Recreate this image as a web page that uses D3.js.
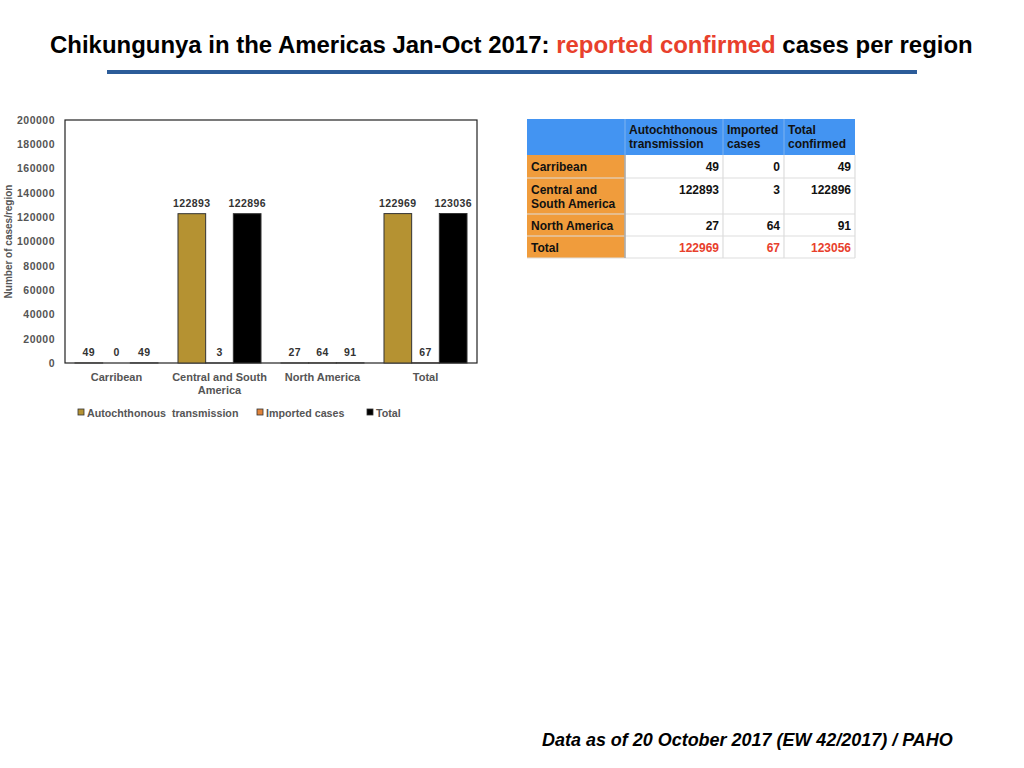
<!DOCTYPE html>
<html><head><meta charset="utf-8">
<script src="https://cdn.jsdelivr.net/npm/d3@7"></script>
<style>body{margin:0;background:#fff;}svg{display:block;}</style>
</head><body>
<svg id="c" width="1024" height="768"></svg>
<script>
const categories = ["Carribean", "Central and South America", "North America", "Total"];
const seriesNames = ["Autochthonous  transmission", "Imported cases", "Total"];
const autochthonous = [49, 122893, 27, 122969];
const imported = [0, 3, 64, 67];
const totals = [49, 122896, 91, 123036];
const yTicks = [0, 20000, 40000, 60000, 80000, 100000, 120000, 140000, 160000, 180000, 200000];
const seriesColors = ["#B59232", "#E0833A", "#000000"];
const tableCols = ["Autochthonous transmission", "Imported cases", "Total confirmed"];
const tableRows = ["Carribean", "Central and South America", "North America", "Total"];
const tableAuto = [49, 122893, 27, 122969];
const tableImp = [0, 3, 64, 67];
const tableTot = [49, 122896, 91, 123056];

(function () {
const svg = d3.select("#c");
const F = "'Liberation Sans', Arial, Helvetica, sans-serif";

function fitX(sel, x0, width) {
  const w = sel.node().getComputedTextLength();
  sel.attr("transform", `translate(${x0},0) scale(${width / w},1)`);
}

// Title
const title = svg.append("text").attr("y", 53).attr("font-family", F).attr("font-weight", "bold").attr("font-size", 24).attr("fill", "#000");
title.append("tspan").text("Chikungunya in the Americas Jan-Oct 2017: ");
title.append("tspan").attr("fill", "#E8402C").text("reported confirmed");
title.append("tspan").text(" cases per region");
fitX(title, 50, 923);
svg.append("rect").attr("x", 107).attr("y", 70).attr("width", 810).attr("height", 4).attr("fill", "#2C5C99");

// Chart
const pl = 65, pr = 477, pt = 120, pb = 363;
const x0 = d3.scaleBand().domain(categories).range([pl, pr]).paddingInner(0.194).paddingOuter(0.097);
const x1 = d3.scaleBand().domain([0, 1, 2]).range([0, x0.bandwidth()]);
const y = d3.scaleLinear().domain([0, 200000]).range([pb, pt]);
const series = [autochthonous, imported, totals];

svg.append("rect").attr("x", pl).attr("y", pt).attr("width", pr - pl).attr("height", pb - pt)
  .attr("fill", "none").attr("stroke", "#222").attr("stroke-width", 1.2);

const yAxis = svg.append("g").attr("transform", `translate(${pl},0)`)
  .call(d3.axisLeft(y).tickValues(yTicks).tickSize(0).tickPadding(10).tickFormat(d3.format("d")));
yAxis.select(".domain").remove();
yAxis.selectAll("text").attr("font-family", F).attr("font-weight", "bold").attr("font-size", 10.5)
  .attr("letter-spacing", 0.5).attr("fill", "#555");

svg.append("text").attr("transform", `translate(12,${(pt + pb) / 2}) rotate(-90)`)
  .attr("text-anchor", "middle").attr("font-family", F).attr("font-weight", "bold").attr("font-size", 10).attr("fill", "#555")
  .text("Number of cases/region");

categories.forEach((c, ci) => {
  series.forEach((s, si) => {
    const v = s[ci];
    const bx = x0(c) + x1(si);
    svg.append("rect").attr("x", bx).attr("y", y(v)).attr("width", x1.bandwidth()).attr("height", Math.max(0, pb - y(v)))
      .attr("fill", seriesColors[si]).attr("stroke", "#333").attr("stroke-width", v > 0 ? 1 : 0);
    svg.append("text").attr("x", bx + x1.bandwidth() / 2).attr("y", y(v) - 7).attr("text-anchor", "middle")
      .attr("font-family", F).attr("font-weight", "bold").attr("font-size", 10.5).attr("letter-spacing", 0.4)
      .attr("fill", "#333").text(v);
  });
});

// x labels
const xLabelLines = [["Carribean"], ["Central and South", "America"], ["North America"], ["Total"]];
categories.forEach((c, ci) => {
  const t = svg.append("text").attr("x", x0(c) + x0.bandwidth() / 2).attr("y", 381).attr("text-anchor", "middle")
    .attr("font-family", F).attr("font-weight", "bold").attr("font-size", 11).attr("fill", "#555");
  xLabelLines[ci].forEach((l, li) => t.append("tspan").attr("x", x0(c) + x0.bandwidth() / 2).attr("dy", li ? 13 : 0).text(l));
});

// legend
const legendX = [78, 257, 367];
seriesNames.forEach((n, i) => {
  svg.append("rect").attr("x", legendX[i]).attr("y", 409).attr("width", 6).attr("height", 6)
    .attr("fill", seriesColors[i]).attr("stroke", "#333").attr("stroke-width", 0.8);
  svg.append("text").attr("x", legendX[i] + 9).attr("y", 416.5).attr("font-family", F).attr("font-weight", "bold")
    .attr("font-size", 10.7).attr("fill", "#555").style("white-space", "pre").text(n);
});

// Table
const colX = [527, 625, 723, 784, 855];
const rowY = [119, 155, 178, 214, 236, 258];
const tg = svg.append("g").attr("font-family", F).attr("font-weight", "bold").attr("font-size", 12);
tg.append("rect").attr("x", colX[0]).attr("y", rowY[0]).attr("width", colX[4] - colX[0]).attr("height", rowY[1] - rowY[0]).attr("fill", "#4394F2");
tableRows.forEach((r, ri) => {
  tg.append("rect").attr("x", colX[0]).attr("y", rowY[ri + 1]).attr("width", colX[1] - colX[0]).attr("height", rowY[ri + 2] - rowY[ri + 1]).attr("fill", "#F09C3C");
});
for (let ri = 2; ri <= 5; ri++) {
  tg.append("line").attr("x1", colX[0]).attr("x2", colX[4]).attr("y1", rowY[ri]).attr("y2", rowY[ri]).attr("stroke", "#ddd").attr("stroke-width", 1.2);
}
for (let ci = 1; ci <= 4; ci++) {
  tg.append("line").attr("x1", colX[ci]).attr("x2", colX[ci]).attr("y1", rowY[1]).attr("y2", rowY[5]).attr("stroke", "#ddd").attr("stroke-width", 1.2);
  if (ci < 4) tg.append("line").attr("x1", colX[ci]).attr("x2", colX[ci]).attr("y1", rowY[0]).attr("y2", rowY[1]).attr("stroke", "#7FB3F0").attr("stroke-width", 1);
}
tg.append("line").attr("x1", colX[1]).attr("x2", colX[1]).attr("y1", rowY[1]).attr("y2", rowY[5]).attr("stroke", "#999").attr("stroke-width", 1.2);

const headerLines = [["Autochthonous", "transmission"], ["Imported", "cases"], ["Total", "confirmed"]];
headerLines.forEach((hl, i) => {
  const t = tg.append("text").attr("x", colX[i + 1] + 4).attr("y", 134).attr("fill", "#111");
  hl.forEach((l, li) => t.append("tspan").attr("x", colX[i + 1] + 4).attr("dy", li ? 14 : 0).text(l));
});
const rowLines = [["Carribean"], ["Central and", "South America"], ["North America"], ["Total"]];
rowLines.forEach((rl, ri) => {
  const t = tg.append("text").attr("x", colX[0] + 4).attr("y", rowY[ri + 1] + 16).attr("fill", "#111");
  rl.forEach((l, li) => t.append("tspan").attr("x", colX[0] + 4).attr("dy", li ? 14 : 0).text(l));
});
const tableData = [tableAuto, tableImp, tableTot];
tableRows.forEach((r, ri) => {
  tableData.forEach((col, ci) => {
    tg.append("text").attr("x", colX[ci + 2] - 4).attr("y", rowY[ri + 1] + 16).attr("text-anchor", "end")
      .attr("fill", ri === 3 ? "#E8402C" : "#111").text(col[ri]);
  });
});

// footer
const foot = svg.append("text").attr("y", 746).attr("font-family", F).attr("font-weight", "bold").attr("font-style", "italic")
  .attr("font-size", 18).attr("fill", "#000").text("Data as of 20 October 2017 (EW 42/2017) / PAHO");
fitX(foot, 542, 411);
})();
</script>
</body></html>
